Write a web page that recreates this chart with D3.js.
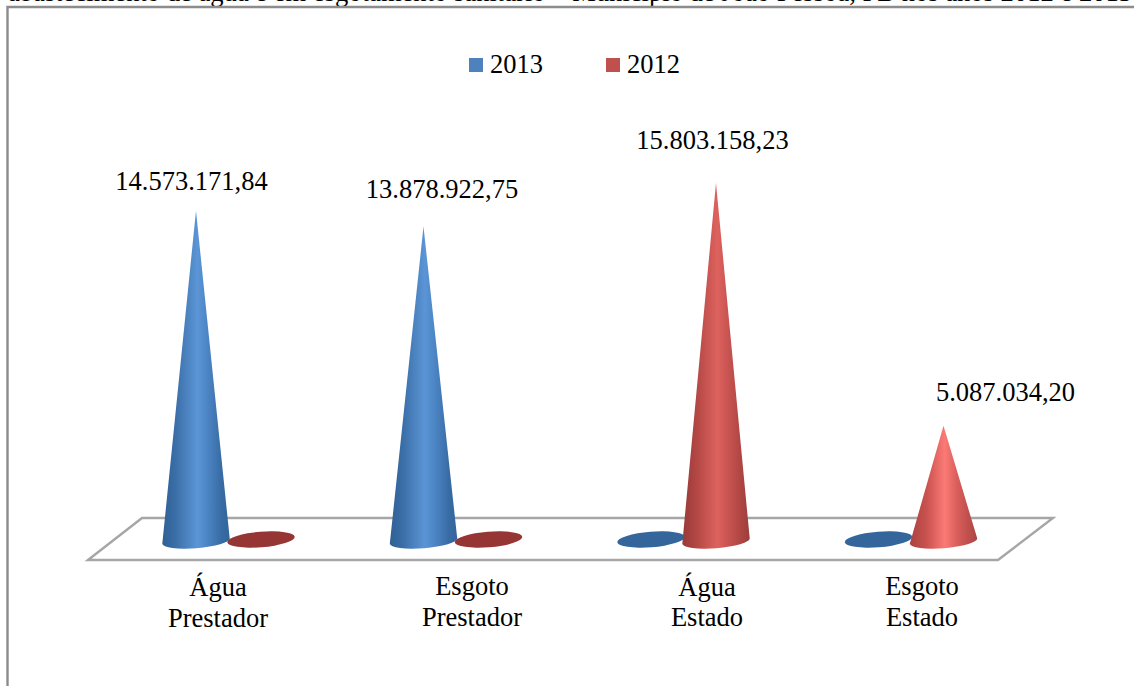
<!DOCTYPE html>
<html><head><meta charset="utf-8">
<script src="https://cdn.jsdelivr.net/npm/d3@7/dist/d3.min.js"></script>
<style>html,body{margin:0;padding:0;background:#fff}svg{display:block}text{font-family:"Liberation Serif",serif;fill:#000}</style>
</head><body><div id="c"></div>
<script>
const categories = ["Água Prestador","Esgoto Prestador","Água Estado","Esgoto Estado"];
const categoryLines = [["Água","Prestador"],["Esgoto","Prestador"],["Água","Estado"],["Esgoto","Estado"]];
const seriesNames = ["2013","2012"];
const values2013 = [14573171.84,13878922.75,0,0];
const values2012 = [0,0,15803158.23,5087034.20];
const valueLabels2013 = ["14.573.171,84","13.878.922,75",null,null];
const valueLabels2012 = [null,null,"15.803.158,23","5.087.034,20"];
const caption = "abastecimento de água e em esgotamento sanitário – Município de João Pessoa, PB nos anos 2012 e 2013";

const W=1134,H=686;
const svg=d3.select("#c").append("svg").attr("width",W).attr("height",H);
const defs=svg.append("defs");

function grad(id,stops){
  const g=defs.append("linearGradient").attr("id",id).attr("x1","0").attr("x2","1").attr("y1","0").attr("y2","0");
  stops.forEach(([o,c])=>g.append("stop").attr("offset",o).attr("stop-color",c));
}
grad("gBlue",[[0,"#2f5f94"],[.2,"#3b6fa8"],[.52,"#5b95d6"],[.66,"#4d86c5"],[.88,"#386ba4"],[1,"#34659c"]]);
grad("gRed",[[0,"#963a38"],[.22,"#b44845"],[.52,"#dd625e"],[.66,"#cb5552"],[.88,"#ad4542"],[1,"#9c3d3a"]]);
grad("gRedLight",[[0,"#a84341"],[.25,"#c9524f"],[.52,"#fb7a76"],[.7,"#d95e5b"],[1,"#ab4442"]]);

// Caption clipped by the top edge (as in the source image)
svg.append("text").attr("x",8).attr("y",0.5).attr("font-size",26.6).text(caption);

// Frame
svg.append("path").attr("d","M7.5,686V7H1134").attr("fill","none").attr("stroke","#8c8c8c").attr("stroke-width",2.4);

// Scales
const x=d3.scaleBand().domain(categories).range([114.75,1024.75]);
const xs=d3.scaleBand().domain(seriesNames).range([0,x.bandwidth()]).paddingInner(0).paddingOuter(.75);
const baseY=541;
const y=d3.scaleLinear().domain([0,15803158.23]).range([baseY,183]);

// Floor
const floor=d3.line();
svg.append("path").attr("d",floor([[88,560],[142,518],[1053,518],[998,560]])+"Z")
  .attr("fill","#fff").attr("stroke","#a6a6a6").attr("stroke-width",2.4).attr("stroke-linejoin","miter");

// Base geometry
const rx=33.8, ry=7.2, tilt=-4.5;
function conePath(cx,topY){
  const t=tilt*Math.PI/180, c=Math.cos(t), s=Math.sin(t);
  const lx=cx-rx*c, leftY=baseY-rx*s, rxx=cx+rx*c, ryy=baseY+rx*s;
  return `M${cx},${topY}L${lx},${leftY}A${rx},${ry} ${tilt} 0 0 ${rxx},${ryy}Z`;
}

const series=[
  {name:"2013",vals:values2013,fill:"url(#gBlue)",flat:"#34669c",color:"#4f81bd"},
  {name:"2012",vals:values2012,fill:"url(#gRed)",flat:"#963634",color:"#c0504d"}
];

// Flat (zero) markers first, then cones
series.forEach(se=>{
  categories.forEach((cat,i)=>{
    if(se.vals[i]!==0) return;
    const cx=x(cat)+xs(se.name)+xs.bandwidth()/2;
    svg.append("ellipse").attr("cx",cx).attr("cy",baseY-1.5).attr("rx",rx).attr("ry",ry+.6)
      .attr("transform",`rotate(${tilt} ${cx} ${baseY-1.5})`).attr("fill",se.flat);
  });
});
series.forEach(se=>{
  categories.forEach((cat,i)=>{
    if(se.vals[i]===0) return;
    const cx=x(cat)+xs(se.name)+xs.bandwidth()/2;
    const isSmall=se.vals[i]<1e7;
    svg.append("path").attr("d",conePath(cx,y(se.vals[i])))
      .attr("fill",isSmall?"url(#gRedLight)":se.fill);
  });
});

// Value labels (manually placed in the source chart)
const labelPos2013=[[191.5,190],[442,198],null,null];
const labelPos2012=[null,null,[712.5,149],[1005.5,401]];
[[valueLabels2013,labelPos2013],[valueLabels2012,labelPos2012]].forEach(([ls,ps])=>{
  ls.forEach((t,i)=>{ if(t) svg.append("text").attr("x",ps[i][0]).attr("y",ps[i][1])
    .attr("text-anchor","middle").attr("font-size",26.5).text(t); });
});

// Category labels
const catLabelX=[218,472,707,922], catLabelY=[[596,627],[595,626],[596,626],[595,626]];
categoryLines.forEach((ls,i)=>ls.forEach((t,j)=>{
  svg.append("text").attr("x",catLabelX[i]).attr("y",catLabelY[i][j]).attr("text-anchor","middle").attr("font-size",26.5).text(t);
}));

// Legend
const legX=[469,606];
seriesNames.forEach((n,i)=>{
  svg.append("rect").attr("x",legX[i]).attr("y",58).attr("width",14).attr("height",14).attr("fill",series[i].color);
  svg.append("text").attr("x",legX[i]+21).attr("y",73).attr("font-size",26.5).text(n);
});
</script></body></html>
